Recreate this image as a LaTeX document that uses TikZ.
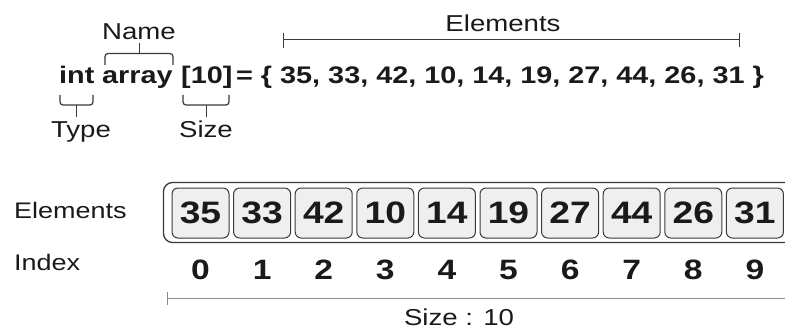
\documentclass[tikz,border=0pt]{standalone}
\usepackage{fontspec}
\setmainfont{Liberation Sans}[FakeStretch=1.2]
\definecolor{ink}{HTML}{1A1A1A}
\definecolor{cellfill}{HTML}{EFEFEF}
\definecolor{lineg}{HTML}{3A3A3A}
\definecolor{sizeg}{HTML}{8A8A8A}
\begin{document}
\begin{tikzpicture}[x=1pt,y=-1pt,
  code/.style={inner sep=0pt, text=ink, font=\fontsize{24}{28}\selectfont\bfseries, anchor=base west},
  lbl/.style={inner sep=0pt, text=ink, font=\fontsize{23}{28}\selectfont, anchor=base},
  sidelbl/.style={inner sep=0pt, text=ink, font=\fontsize{22.5}{26}\selectfont, anchor=base west},
  brk/.style={draw=lineg, line width=1.2pt, rounded corners=3pt},
  dim/.style={draw=lineg, line width=1pt},
  cell/.style={draw=lineg, line width=1pt, fill=cellfill, rounded corners=6pt, minimum width=57pt, minimum height=50pt, inner sep=0pt, text=ink, font=\fontsize{31}{36}\selectfont\bfseries},
  idx/.style={inner sep=0pt, text=ink, font=\fontsize{28}{32}\selectfont\bfseries},
  outerbox/.style={draw=lineg, line width=1.3pt, fill=white, rounded corners=9pt}
]
\useasboundingbox (0,0) rectangle (785,329);
\clip (0,0) rectangle (785,329);
\fill[white] (0,0) rectangle (785,329);

% declaration line
\node[code] (tint) at (59,83.5) {int};
\node[code] (tarr) at (102,83.5) {array};
\node[code] (tsize) at (181,83.5) {[10]};
\node[code] (tvals) at (236,83.5) {= \{ 35, 33, 42, 10, 14, 19, 27, 44, 26, 31 \}};

% labels
\node[lbl] (lname) at (139,39.5) {Name};
\node[lbl] (ltype) at (81,137) {Type};
\node[lbl] (lsize) at (206,137) {Size};
\node[lbl] (lelem) at (503,32) {Elements};

% brackets
\coordinate (bname) at (139,53.5);
\draw[brk] (105,65) -- (105,53.5) -- (173,53.5) -- (173,65);
\draw[dim] (lname.south |- 0,43) -- (bname);
\coordinate (btype) at (76.5,105);
\draw[brk] (60,95) -- (60,105) -- (93,105) -- (93,95);
\draw[dim] (btype) -- (76.5,117);
\coordinate (bsize) at (206,105);
\draw[brk] (183,95) -- (183,105) -- (229,105) -- (229,95);
\draw[dim] (bsize) -- (206,117);

% elements span
\coordinate (eL) at (283.5,40);
\coordinate (eR) at (739,40);
\draw[dim] (eL) -- (eR);
\draw[dim] (283.5,33) -- (283.5,48);
\draw[dim] (739,33) -- (739,47.5);

% side labels
\node[sidelbl] (selem) at (14,218.5) {Elements};
\node[sidelbl] (sidx) at (14,270) {Index};

% array box
\draw[outerbox] (163.5,182.5) rectangle (796,242.5);
\foreach \v [count=\i from 0] in {35,33,42,10,14,19,27,44,26,31} {
  \node[cell] (c\i) at ({200.5+61.6*\i},213) {\v};
  \node[idx] (n\i) at ({200.5+61.6*\i},270) {\i};
}

% size span
\coordinate (sL) at (167,298);
\coordinate (sR) at (795,298);
\draw[draw=sizeg, line width=1pt] (sL) -- (sR);
\draw[draw=sizeg, line width=1pt] (167,292) -- (167,305);
\node[lbl] (ssize) at (459,325) {Size : 10};
\end{tikzpicture}
\end{document}
